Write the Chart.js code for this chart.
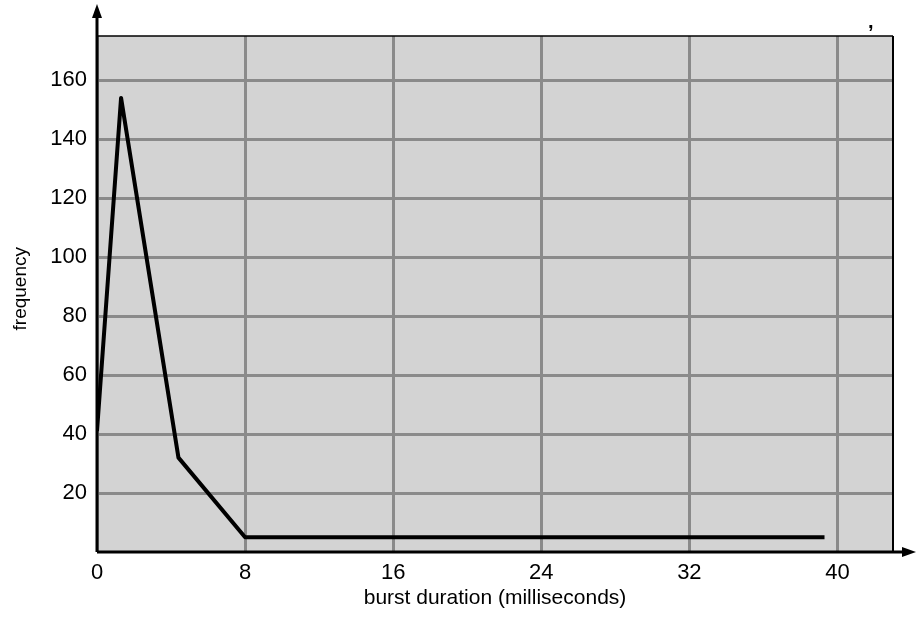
<!DOCTYPE html>
<html>
<head>
<meta charset="utf-8">
<script src="https://cdn.jsdelivr.net/npm/chart.js@4"></script>
<style>
  html, body { margin: 0; padding: 0; background: #fff; }
  #wrap { width: 916px; height: 619px; }
</style>
</head>
<body>
<div id="wrap"><canvas id="grafico"></canvas></div>
<script>
// ----------- dados -----------
const durations = [0, 1.3, 4.4, 8, 39.3];
const frequencies = [41, 154, 32, 5, 5];
const xTicks = [0, 8, 16, 24, 32, 40];
const yTicks = [20, 40, 60, 80, 100, 120, 140, 160];

const fonte = "'Liberation Sans', Arial, sans-serif";

// fundo cinza, bordas e eixos com setas
const papel = {
  id: "papel",
  beforeDraw(chart) {
    const { ctx, chartArea: a } = chart;
    ctx.save();
    ctx.fillStyle = "#d3d3d3";
    ctx.fillRect(a.left, a.top, a.right - a.left, a.bottom - a.top);
    ctx.restore();
  },
  afterDraw(chart) {
    const { ctx, chartArea: a, width } = chart;
    ctx.save();
    ctx.strokeStyle = "#000";
    ctx.fillStyle = "#000";
    // borda superior e direita
    ctx.lineWidth = 1.5;
    ctx.beginPath();
    ctx.moveTo(a.left, a.top);
    ctx.lineTo(a.right, a.top);
    ctx.stroke();
    ctx.lineWidth = 2;
    ctx.beginPath();
    ctx.moveTo(a.right, a.top);
    ctx.lineTo(a.right, a.bottom);
    ctx.stroke();
    // eixos
    ctx.lineWidth = 3;
    ctx.beginPath();
    ctx.moveTo(a.left, a.bottom);
    ctx.lineTo(a.left, 14);
    ctx.moveTo(a.left, a.bottom);
    ctx.lineTo(width - 8, a.bottom);
    ctx.stroke();
    // setas
    ctx.beginPath();
    ctx.moveTo(a.left, 4);
    ctx.lineTo(a.left - 5, 18);
    ctx.lineTo(a.left + 5, 18);
    ctx.closePath();
    ctx.fill();
    ctx.beginPath();
    ctx.moveTo(width, a.bottom);
    ctx.lineTo(width - 14, a.bottom - 5);
    ctx.lineTo(width - 14, a.bottom + 5);
    ctx.closePath();
    ctx.fill();
    // marca solta no canto
    ctx.font = "bold 20px " + fonte;
    ctx.fillText(",", a.right - 25, a.top - 8);
    ctx.restore();
  }
};

document.addEventListener("DOMContentLoaded", () => {
  new Chart(document.getElementById("grafico"), {
    type: "line",
    data: {
      datasets: [{
        data: durations.map((d, i) => ({ x: d, y: frequencies[i] })),
        borderColor: "#000",
        borderWidth: 4,
        pointRadius: 0,
        tension: 0,
        borderJoinStyle: "round"
      }]
    },
    options: {
      responsive: true,
      maintainAspectRatio: false,
      animation: false,
      layout: { padding: { top: 36, right: 23, left: 0, bottom: 0 } },
      plugins: { legend: { display: false }, tooltip: { enabled: false } },
      scales: {
        x: {
          type: "linear",
          min: 0,
          max: 43,
          afterBuildTicks: s => { s.ticks = xTicks.map(v => ({ value: v })); },
          afterFit: s => { s.height = 67; },
          grid: { color: "#8a8a8a", lineWidth: 3, drawTicks: false },
          border: { display: false },
          ticks: { color: "#000", padding: 8, font: { family: fonte, size: 22 } },
          title: {
            display: true,
            text: "burst duration (milliseconds)",
            color: "#000",
            padding: { bottom: 8, top: 0 },
            font: { family: fonte, size: 21 }
          }
        },
        y: {
          min: 0,
          max: 175,
          afterBuildTicks: s => { s.ticks = yTicks.map(v => ({ value: v })); },
          afterFit: s => { s.width = 97; },
          grid: { color: "#8a8a8a", lineWidth: 3, drawTicks: false },
          border: { display: false },
          ticks: { color: "#000", padding: 10, font: { family: fonte, size: 22 } },
          title: {
            display: true,
            text: "  frequency",
            color: "#000",
            padding: { top: 9, bottom: 0 },
            font: { family: fonte, size: 19 }
          }
        }
      }
    },
    plugins: [papel]
  });
});
</script>
</body>
</html>
